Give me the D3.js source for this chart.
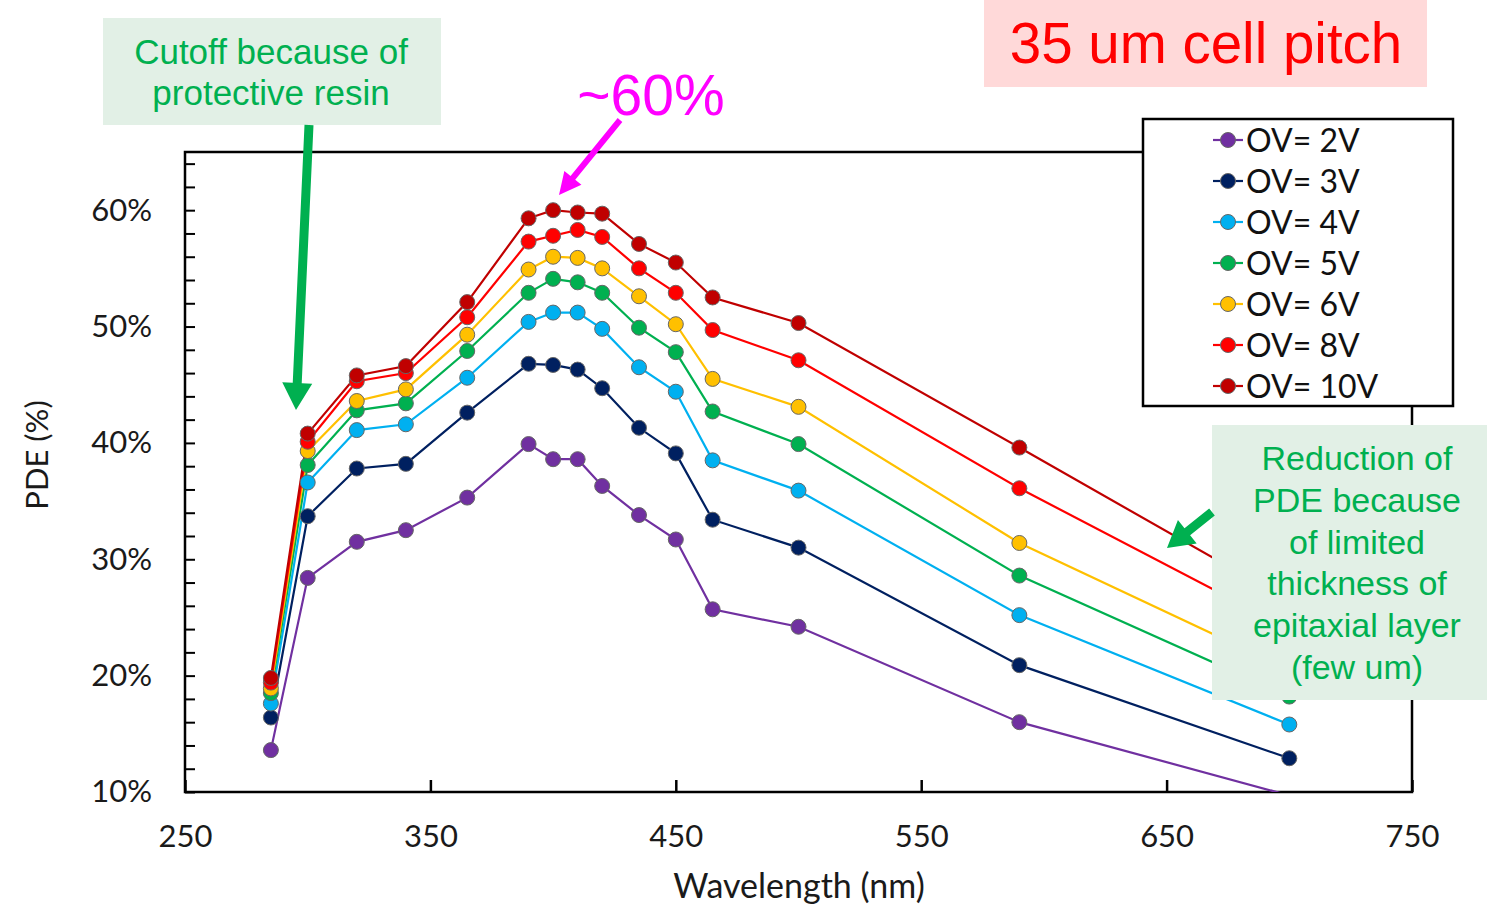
<!DOCTYPE html>
<html>
<head>
<meta charset="utf-8">
<script src="https://cdn.jsdelivr.net/npm/d3@7"></script>
<style>
  body { margin: 0; background: #fff; }
  svg { display: block; }
  .tick-label { font-family: Lato, "Open Sans", sans-serif; fill: #1a1a1a; }
</style>
</head>
<body>
<div id="chart"></div>
<script>
// Wavelengths (nm) of the measured points
const wavelengths = [285, 300, 320, 340, 365, 390, 400, 410, 420, 435, 450, 465, 500, 590, 700];

// PDE (%) per over-voltage
const ov2 = [13.6, 28.4, 31.5, 32.5, 35.3, 39.9, 38.6, 38.6, 36.3, 33.8, 31.7, 25.7, 24.2, 16.0, 9.7];
const ov3 = [16.4, 33.7, 37.8, 38.2, 42.6, 46.8, 46.7, 46.3, 44.7, 41.3, 39.1, 33.4, 31.0, 20.9, 12.9];
const ov4 = [17.6, 36.6, 41.1, 41.6, 45.6, 50.4, 51.2, 51.2, 49.8, 46.5, 44.4, 38.5, 35.9, 25.2, 15.8];
const ov5 = [18.5, 38.1, 42.8, 43.4, 47.9, 52.9, 54.1, 53.8, 52.9, 49.9, 47.8, 42.7, 39.9, 28.6, 18.2];
const ov6 = [18.9, 39.3, 43.6, 44.6, 49.3, 54.9, 56.0, 55.9, 55.0, 52.6, 50.2, 45.5, 43.1, 31.4, 20.5];
const ov8 = [19.4, 40.1, 45.3, 46.0, 50.8, 57.3, 57.8, 58.3, 57.7, 55.0, 52.9, 49.7, 47.1, 36.1, 24.0];
const ov10 = [19.8, 40.8, 45.8, 46.6, 52.1, 59.3, 60.0, 59.8, 59.7, 57.1, 55.5, 52.5, 50.3, 39.6, 26.4];

const seriesNames = ['OV= 2V', 'OV= 3V', 'OV= 4V', 'OV= 5V', 'OV= 6V', 'OV= 8V', 'OV= 10V'];
const seriesValues = [ov2, ov3, ov4, ov5, ov6, ov8, ov10];
const seriesColors = ['#7030A0', '#002060', '#00B0F0', '#00B050', '#FFC000', '#FF0000', '#C00000'];

const xTicks = [250, 350, 450, 550, 650, 750];
const yLabelTicks = [10, 20, 30, 40, 50, 60];

const W = 1487, H = 908;
const plot = { left: 185, right: 1412, top: 152, bottom: 792 };

const svg = d3.select('#chart').append('svg').attr('width', W).attr('height', H);

const x = d3.scaleLinear().domain([250, 750]).range([plot.left, plot.right]);
const y = d3.scaleLinear().domain([10, 65]).range([plot.bottom, plot.top]);

// clip to plot area
svg.append('defs').append('clipPath').attr('id', 'plotClip')
  .append('rect')
  .attr('x', plot.left).attr('y', plot.top)
  .attr('width', plot.right - plot.left).attr('height', plot.bottom - plot.top);

// y ticks every 2%, pointing inward
const yMinor = d3.range(10, 65.1, 2);
svg.append('g')
  .attr('transform', `translate(${plot.left},0)`)
  .call(d3.axisLeft(y).tickValues(yMinor).tickSize(-10).tickSizeOuter(0).tickFormat(''))
  .call(g => g.select('.domain').remove())
  .call(g => g.selectAll('line').attr('stroke', '#000').attr('stroke-width', 2));

// y tick labels
svg.append('g')
  .attr('transform', `translate(${plot.left},0)`)
  .call(d3.axisLeft(y).tickValues(yLabelTicks).tickSize(0).tickPadding(33).tickFormat(d => d + '%'))
  .call(g => g.select('.domain').remove())
  .call(g => g.selectAll('text').attr('class', 'tick-label').attr('font-size', 31));

// x ticks (inward) and labels
svg.append('g')
  .attr('transform', `translate(0,${plot.bottom})`)
  .call(d3.axisBottom(x).tickValues(xTicks).tickSize(-12).tickSizeOuter(0).tickFormat(''))
  .call(g => g.select('.domain').remove())
  .call(g => g.selectAll('line').attr('stroke', '#000').attr('stroke-width', 2.5));
svg.append('g')
  .attr('transform', `translate(0,${plot.bottom})`)
  .call(d3.axisBottom(x).tickValues(xTicks).tickSize(0).tickPadding(33))
  .call(g => g.select('.domain').remove())
  .call(g => g.selectAll('text').attr('class', 'tick-label').attr('font-size', 31));

// plot frame
svg.append('rect')
  .attr('x', plot.left).attr('y', plot.top)
  .attr('width', plot.right - plot.left).attr('height', plot.bottom - plot.top)
  .attr('fill', 'none').attr('stroke', '#000').attr('stroke-width', 2.5);

// axis titles
svg.append('text')
  .attr('x', 799).attr('y', 898)
  .attr('text-anchor', 'middle')
  .attr('font-family', 'Lato, sans-serif').attr('font-size', 34).attr('fill', '#1a1a1a')
  .text('Wavelength (nm)');
svg.append('text')
  .attr('transform', 'translate(48,455) rotate(-90)')
  .attr('text-anchor', 'middle')
  .attr('font-family', 'Lato, sans-serif').attr('font-size', 31).attr('fill', '#1a1a1a')
  .text('PDE (%)');

// series lines and markers
const line = d3.line().x((d, i) => x(wavelengths[i])).y(d => y(d));
const dataG = svg.append('g').attr('clip-path', 'url(#plotClip)');
seriesValues.forEach((vals, s) => {
  dataG.append('path')
    .datum(vals)
    .attr('d', line)
    .attr('fill', 'none')
    .attr('stroke', seriesColors[s])
    .attr('stroke-width', 2.2);
});
seriesValues.forEach((vals, s) => {
  dataG.selectAll(null)
    .data(vals.map((v, i) => ({ v, w: wavelengths[i] })).filter(d => d.v >= 10))
    .join('circle')
    .attr('cx', d => x(d.w))
    .attr('cy', d => y(d.v))
    .attr('r', 7.5)
    .attr('fill', seriesColors[s])
    .attr('stroke', '#666')
    .attr('stroke-width', 1);
});

// legend
const legend = svg.append('g');
legend.append('rect')
  .attr('x', 1143).attr('y', 119).attr('width', 310).attr('height', 287)
  .attr('fill', '#fff').attr('stroke', '#000').attr('stroke-width', 2.5);
seriesNames.forEach((name, i) => {
  const cy = 140 + i * 41;
  legend.append('line')
    .attr('x1', 1213).attr('x2', 1243).attr('y1', cy).attr('y2', cy)
    .attr('stroke', seriesColors[i]).attr('stroke-width', 2.2);
  legend.append('circle')
    .attr('cx', 1228).attr('cy', cy).attr('r', 7.5)
    .attr('fill', seriesColors[i]).attr('stroke', '#666').attr('stroke-width', 1);
  legend.append('text')
    .attr('x', 1246).attr('y', cy).attr('dy', '0.36em')
    .attr('font-family', 'Lato, sans-serif').attr('font-size', 32).attr('fill', '#111')
    .text(name);
});

// annotation helpers
function arrow(x1, y1, x2, y2, shaft, headW, headL, color) {
  const dx = x2 - x1, dy = y2 - y1;
  const len = Math.hypot(dx, dy);
  const ux = dx / len, uy = dy / len;
  const px = -uy, py = ux;
  const bx = x2 - ux * headL, by = y2 - uy * headL;
  const pts = [
    [x1 + px * shaft / 2, y1 + py * shaft / 2],
    [bx + px * shaft / 2, by + py * shaft / 2],
    [bx + px * headW / 2, by + py * headW / 2],
    [x2, y2],
    [bx - px * headW / 2, by - py * headW / 2],
    [bx - px * shaft / 2, by - py * shaft / 2],
    [x1 - px * shaft / 2, y1 - py * shaft / 2]
  ];
  svg.append('polygon').attr('points', pts.map(p => p.join(',')).join(' ')).attr('fill', color);
}
function textBlock(lines, cx, y0, dy, size, color) {
  lines.forEach((t, i) => {
    svg.append('text')
      .attr('x', cx).attr('y', y0 + i * dy).attr('dy', '0.35em')
      .attr('text-anchor', 'middle')
      .attr('font-family', '"Liberation Sans", Arial, sans-serif')
      .attr('font-size', size).attr('fill', color)
      .text(t);
  });
}

// cutoff note
svg.append('rect').attr('x', 103).attr('y', 18).attr('width', 338).attr('height', 107).attr('fill', '#E2F0E6');
textBlock(['Cutoff because of', 'protective resin'], 271, 52, 41, 35, '#00B050');
arrow(309, 125, 296, 410, 9, 30, 27, '#00B050');

// ~60% note
svg.append('text')
  .attr('x', 651).attr('y', 115).attr('text-anchor', 'middle')
  .attr('font-family', '"Liberation Sans", Arial, sans-serif').attr('font-size', 57).attr('fill', '#FF00FF')
  .text('~60%');
arrow(620, 120, 559, 195, 6, 22, 22, '#FF00FF');

// cell pitch title
svg.append('rect').attr('x', 984).attr('y', 0).attr('width', 443).attr('height', 87).attr('fill', '#FFD9D9');
svg.append('text')
  .attr('x', 1206).attr('y', 63).attr('text-anchor', 'middle')
  .attr('font-family', '"Liberation Sans", Arial, sans-serif').attr('font-size', 56.5).attr('fill', '#FF0000')
  .text('35 um cell pitch');

// reduction note
svg.append('rect').attr('x', 1212).attr('y', 425).attr('width', 275).attr('height', 275).attr('fill', '#E2F0E6');
textBlock(['Reduction of', 'PDE because', 'of limited', 'thickness of', 'epitaxial layer', '(few um)'],
  1357, 458, 41.8, 34, '#00B050');
arrow(1212, 512, 1167, 548, 9, 30, 26, '#00B050');
</script>
</body>
</html>
